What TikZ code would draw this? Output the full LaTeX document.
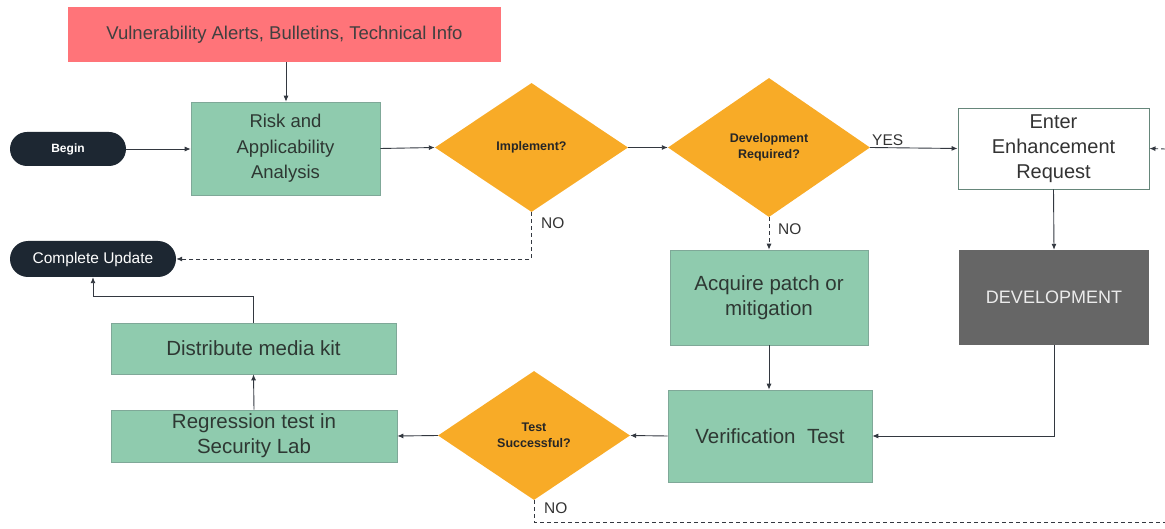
\documentclass[tikz,border=0pt]{standalone}
\usepackage{fontspec}
\setmainfont{Liberation Sans}
\usetikzlibrary{shapes.geometric,arrows.meta,calc}
\definecolor{boxgreen}{HTML}{8FCBAE}
\definecolor{boxgreenedge}{HTML}{7FA898}
\definecolor{alertred}{HTML}{FF7479}
\definecolor{decorange}{HTML}{F8AB27}
\definecolor{pilldark}{HTML}{1D2732}
\definecolor{devgray}{HTML}{666666}
\definecolor{linegray}{HTML}{333840}
\definecolor{txtdark}{HTML}{2E3833}
\tikzset{
  x=1pt, y=-1pt,
  greenbox/.style={rectangle, fill=boxgreen, draw=boxgreenedge, line width=0.6pt, inner sep=0pt, align=center, text=txtdark, font=\fontsize{20.5}{25}\selectfont},
  pill/.style={rectangle, rounded corners=17pt, fill=pilldark, inner sep=0pt, text=white, align=center},
  decision/.style={diamond, fill=decorange, inner sep=0pt, align=center, text=black!85, font=\bfseries\fontsize{12.5}{16}\selectfont},
  conn/.style={draw=linegray, line width=0.9pt, -{Latex[length=6pt,width=5pt]}},
  dconn/.style={conn, dashed, dash pattern=on 4pt off 3pt},
  lbl/.style={text=black!80, font=\fontsize{15.5}{18}\selectfont, inner sep=0pt}
}
\begin{document}
\begin{tikzpicture}
\useasboundingbox (0,0) rectangle (1165,529);
% nodes
\node[rectangle, fill=alertred, inner sep=0pt, minimum width=433pt, minimum height=55pt, text=black!75, font=\fontsize{18.5}{22}\selectfont] (alert) at (284.5,34.5) {Vulnerability Alerts, Bulletins, Technical Info};
\node[greenbox, minimum width=189pt, minimum height=93pt, font=\fontsize{18.5}{25.5}\selectfont] (risk) at (285.5,148.5) {Risk and\\Applicability\\Analysis};
\node[pill, minimum width=116pt, minimum height=34pt, font=\bfseries\fontsize{12}{14}\selectfont] (begin) at (68,149) {Begin};
\node[decision, minimum width=193pt, minimum height=129pt] (impl) at (531.5,147.5) {Implement?};
\node[decision, minimum width=202pt, minimum height=139pt] (devq) at (769,147.5) {Development\\Required?};
\node[rectangle, fill=white, draw=boxgreenedge!80!black, line width=0.9pt, inner sep=0pt, minimum width=191pt, minimum height=81pt, align=center, text=black!80, font=\fontsize{20}{25}\selectfont] (enter) at (1053.5,148.5) {Enter\\Enhancement\\Request};
\node[rectangle, fill=devgray, inner sep=0pt, minimum width=190pt, minimum height=95pt, text=white!92!black, font=\fontsize{18}{21}\selectfont] (dev) at (1054,297.5) {DEVELOPMENT};
\node[pill, rounded corners=18pt, minimum width=166pt, minimum height=36pt, font=\fontsize{15.5}{18}\selectfont] (complete) at (93,259) {Complete Update};
\node[greenbox, minimum width=198pt, minimum height=95pt] (acquire) at (769,297.5) {Acquire patch or\\mitigation};
\node[greenbox, minimum width=204pt, minimum height=92pt] (verif) at (770,436) {Verification\ \ Test};
\node[decision, minimum width=192pt, minimum height=129pt] (test) at (534,435.5) {Test\\Successful?};
\node[greenbox, minimum width=286pt, minimum height=52pt] (regr) at (254,436) {Regression test in\\Security Lab};
\node[greenbox, minimum width=285pt, minimum height=51pt, font=\fontsize{20.5}{24}\selectfont] (distr) at (253.5,348.5) {Distribute media kit};
\coordinate (rightin) at (1165,149);
\coordinate (bottomout) at (1165,522);
% connectors
\draw[conn] (alert.south -| 286,0) -- (risk.north -| 286,0);
\draw[conn] (begin.east) -- (begin.east -| risk.west);
\draw[conn] (risk.east) -- (impl.west);
\draw[conn] (impl.east) -- (devq.west);
\draw[conn] (devq.east) -- node[lbl, above, pos=0.2, yshift=2pt] {YES} (enter.west);
\draw[dconn] (rightin) -- (enter.east);
\draw[conn] (enter.south) -- (dev.north);
\draw[conn] (dev.south) |- (verif.east);
\draw[dconn] (impl.south) |- (complete.east);
\node[lbl, anchor=west] (nolbl1) at (541,223) {NO};
\draw[dconn] (devq.south) -- (acquire.north);
\node[lbl, anchor=west] (nolbl2) at (778,229) {NO};
\draw[conn] (acquire.south) -- (acquire.south |- verif.north);
\draw[conn] (verif.west) -- (test.east);
\draw[conn] (test.west) -- (regr.east);
\draw[conn] (regr.north) -- (distr.south);
\draw[conn] (distr.north) -- ++(0,-26) -| (complete.south);
\draw[draw=linegray, line width=0.9pt, dashed, dash pattern=on 4pt off 3pt] (test.south) |- (bottomout);
\node[lbl, anchor=west] (nolbl3) at (544,508) {NO};
\end{tikzpicture}
\end{document}
